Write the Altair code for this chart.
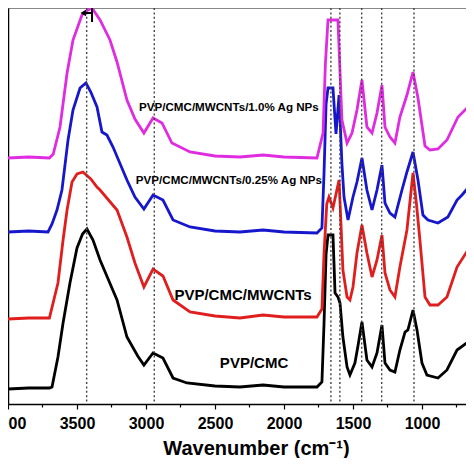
import altair as alt
import pandas as pd

# ---- data (wavenumber in cm-1, offset transmittance in arbitrary units) ----
names = ["PVP/CMC", "PVP/CMC/MWCNTs", "PVP/CMC/MWCNTs/0.25% Ag NPs", "PVP/CMC/MWCNTs/1.0% Ag NPs"]
colors = ["#000000", "#E01E1E", "#1616CC", "#E02CE0"]

black_x = [4000, 3850, 3700, 3681, 3638, 3601, 3551, 3500, 3460, 3428, 3384, 3333, 3210, 3138, 3060, 3015,
           2949, 2877, 2804, 2703, 2500, 2319, 2152, 2000, 1761, 1725, 1710, 1695, 1681, 1645, 1630, 1609,
           1594, 1573, 1543, 1522, 1486, 1464, 1435, 1399, 1362, 1326, 1290, 1268, 1232, 1196, 1160, 1123,
           1102, 1065, 1036, 1000, 964, 884, 819, 746, 667, 623]
black_y = [15, 16, 16, 17, 47, 81, 121, 156, 170, 175, 164, 144, 104, 67, 48, 39,
           51, 46, 26, 21, 18, 17, 19, 17, 17, 22, 80, 150, 169, 169, 111, 107,
           101, 67, 37, 29, 41, 58, 82, 44, 37, 51, 79, 41, 34, 32, 54, 72,
           74, 94, 74, 41, 29, 26, 34, 54, 62, 60]

red_x = [4000, 3850, 3700, 3638, 3601, 3572, 3536, 3500, 3457, 3400, 3355, 3333, 3210, 3138, 3080, 3015,
         2949, 2877, 2804, 2681, 2500, 2319, 2152, 2000, 1761, 1725, 1710, 1690, 1674, 1645, 1601, 1587,
         1573, 1543, 1522, 1500, 1471, 1435, 1399, 1362, 1326, 1290, 1268, 1232, 1196, 1160, 1109, 1065,
         1040, 1015, 978, 942, 884, 819, 746, 667, 623]
red_y = [85, 86, 86, 121, 164, 194, 222, 230, 232, 225, 217, 214, 194, 167, 141, 117,
         135, 128, 104, 92, 88, 86, 89, 87, 87, 95, 150, 200, 207, 196, 224, 180,
         134, 107, 104, 117, 151, 179, 151, 127, 144, 169, 131, 114, 107, 137, 174, 231,
         200, 164, 107, 99, 99, 107, 137, 154, 147]

blue_x = [4000, 3850, 3710, 3681, 3645, 3609, 3565, 3529, 3478, 3435, 3400, 3355, 3319, 3283, 3239, 3138,
          3080, 3015, 2949, 2877, 2804, 2681, 2500, 2319, 2152, 2000, 1761, 1725, 1710, 1695, 1681, 1645,
          1623, 1601, 1580, 1565, 1536, 1500, 1471, 1435, 1399, 1362, 1326, 1290, 1268, 1232, 1196, 1145,
          1109, 1065, 1029, 993, 957, 884, 812, 746, 710, 667, 623]
blue_y = [172, 173, 172, 180, 194, 214, 264, 294, 316, 321, 312, 297, 272, 269, 257, 224,
          207, 195, 209, 204, 184, 177, 173, 172, 174, 172, 171, 176, 230, 300, 316, 316,
          270, 309, 240, 207, 184, 207, 222, 246, 214, 194, 214, 239, 201, 191, 187, 214,
          232, 252, 224, 189, 184, 181, 187, 204, 209, 216, 212]

mag_x = [4000, 3850, 3700, 3672, 3623, 3572, 3529, 3464, 3420, 3391, 3333, 3261, 3210, 3138, 3080, 3015,
         2949, 2884, 2812, 2681, 2500, 2319, 2152, 2000, 1761, 1717, 1700, 1681, 1609, 1580, 1543, 1507,
         1471, 1435, 1399, 1362, 1326, 1290, 1268, 1232, 1196, 1160, 1109, 1065, 1029, 978, 942, 884,
         819, 739, 659, 623]
mag_y = [246, 247, 246, 250, 277, 331, 364, 389, 394, 396, 384, 364, 342, 304, 285, 271,
         286, 281, 261, 252, 248, 247, 249, 247, 246, 271, 340, 384, 384, 284, 261, 271,
         294, 324, 277, 271, 291, 319, 277, 267, 261, 287, 309, 332, 306, 258, 254, 255,
         264, 287, 298, 294]

peak_lines = [3430, 2940, 1660, 1595, 1437, 1292, 1058]
major_ticks = [4000, 3500, 3000, 2500, 2000, 1500, 1000]
minor_ticks = [3750, 3250, 2750, 2250, 1750, 1250, 750]

label_text = ["PVP/CMC/MWCNTs/1.0% Ag NPs", "PVP/CMC/MWCNTs/0.25% Ag NPs", "PVP/CMC/MWCNTs", "PVP/CMC"]
label_x = [2399, 2399, 2297, 2217]
label_y = [296, 223, 109, 41]
label_size = [11.6, 11.6, 15, 15]

# shift marker near the O-H band maximum
marker_x = [3391]
marker_y = [382]
marker_y2 = [396]
arrow_x = [3391]
arrow_x2 = [3455]
arrow_y = [391]

FONT = "Liberation Sans"

rows = []
for n, xs, ys in zip(names, [black_x, red_x, blue_x, mag_x], [black_y, red_y, blue_y, mag_y]):
    assert len(xs) == len(ys), n
    for a, b in zip(xs, ys):
        rows.append({"series": n, "wn": a, "t": b})
df = pd.DataFrame(rows)

xscale = alt.Scale(domain=[4000, 681], nice=False, zero=False)
yscale = alt.Scale(domain=[0, 396], nice=False, zero=False)

x_main_axis = alt.Axis(values=major_ticks, format="d", orient="bottom", tickSize=5, tickWidth=1.2,
                       tickColor="black", domainColor="black", domainWidth=1.5,
                       labelFont=FONT, labelFontSize=16, labelFontWeight="bold", labelColor="black",
                       labelPadding=6, labelOverlap=False, labelFlush=False, grid=False,
                       title="Wavenumber (cm⁻¹)", titleFont=FONT, titleFontSize=20,
                       titleFontWeight="bold", titleColor="black", titleX=248, titleY=50,
                       titleAlign="center", titleBaseline="alphabetic")
y_axis = alt.Axis(labels=False, ticks=False, grid=False, title=None, domainColor="black", domainWidth=1.5)

lines = alt.Chart(df).mark_line(strokeWidth=2.8, clip=True).encode(
    x=alt.X("wn:Q", scale=xscale, axis=x_main_axis),
    y=alt.Y("t:Q", scale=yscale, axis=y_axis),
    color=alt.Color("series:N", scale=alt.Scale(domain=names, range=colors), legend=None),
)

vl = alt.Chart(pd.DataFrame({"wn": peak_lines})).mark_rule(
    color="#444444", strokeWidth=1.4, strokeDash=[2, 2.4]
).encode(
    x=alt.X("wn:Q", scale=xscale,
            axis=alt.Axis(values=minor_ticks, orient="bottom", labels=False, tickSize=3, tickWidth=1.2,
                          tickColor="black", domain=False, grid=False, title=None)),
)

labels = alt.Chart(pd.DataFrame({"txt": label_text, "wn": label_x, "t": label_y, "fs": label_size})).mark_text(
    font=FONT, fontWeight="bold", color="black", align="center", baseline="middle"
).encode(
    x=alt.X("wn:Q", scale=xscale),
    y=alt.Y("t:Q", scale=yscale),
    text="txt:N",
    size=alt.Size("fs:Q", scale=None, legend=None),
)

mk = alt.Chart(pd.DataFrame({"wn": marker_x, "t": marker_y, "t2": marker_y2})).mark_rule(
    color="black", strokeWidth=2
).encode(x=alt.X("wn:Q", scale=xscale), y=alt.Y("t:Q", scale=yscale), y2="t2:Q")

arr = alt.Chart(pd.DataFrame({"wn": arrow_x, "wn2": arrow_x2, "t": arrow_y})).mark_rule(
    color="black", strokeWidth=2
).encode(x=alt.X("wn:Q", scale=xscale), x2="wn2:Q", y=alt.Y("t:Q", scale=yscale))

head = alt.Chart(pd.DataFrame({"wn": arrow_x2, "t": arrow_y})).mark_point(
    shape="triangle-left", filled=True, color="black", size=40, opacity=1
).encode(x=alt.X("wn:Q", scale=xscale), y=alt.Y("t:Q", scale=yscale))

chart = alt.layer(lines, vl, labels, mk, arr, head).resolve_axis(x="independent").properties(
    width=458, height=396,
    autosize=alt.AutoSizeParams(type="none"),
    padding={"left": 0, "top": 0, "right": 0, "bottom": 54},
    background="white",
).configure_view(stroke="#999999", strokeWidth=1)

chart.save("out.html", embed_options={"renderer": "svg", "actions": False})
